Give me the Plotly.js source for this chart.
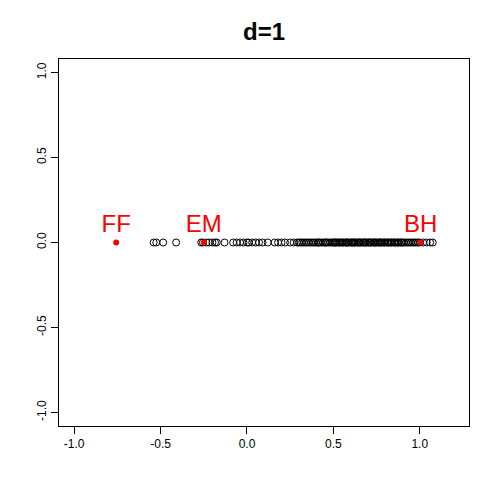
<!DOCTYPE html>
<html>
<head>
<meta charset="utf-8">
<script src="https://cdn.plot.ly/plotly-3.0.1.min.js"></script>
<style>
  html, body { margin: 0; padding: 0; background: #fff; }
  #chart { width: 500px; height: 500px; }
</style>
</head>
<body>
<div id="chart"></div>
<script>
// positions of the open circles (all on y = 0)
const pointX = [
  -0.54, -0.525, -0.485, -0.41, -0.265, -0.255, -0.235, -0.22, -0.2, -0.185,
  -0.175, -0.13, -0.08, -0.06, -0.04, -0.02, 0.0, 0.01, 0.03, 0.05, 0.07, 0.09,
  0.12, 0.16, 0.18, 0.2, 0.22, 0.25, 0.27, 0.29, 0.3, 0.31, 0.32, 0.33, 0.34,
  0.35, 0.36, 0.37, 0.38, 0.39, 0.4, 0.41, 0.415, 0.42, 0.43, 0.44, 0.45, 0.455,
  0.46, 0.47, 0.48, 0.49, 0.5, 0.505, 0.51, 0.515, 0.52, 0.53, 0.535, 0.54,
  0.55, 0.555, 0.56, 0.57, 0.575, 0.58, 0.585, 0.59, 0.6, 0.605, 0.61, 0.615,
  0.62, 0.625, 0.63, 0.64, 0.645, 0.65, 0.655, 0.66, 0.67, 0.675, 0.68, 0.685,
  0.69, 0.7, 0.705, 0.71, 0.715, 0.72, 0.73, 0.735, 0.74, 0.745, 0.75, 0.76,
  0.765, 0.77, 0.775, 0.78, 0.79, 0.795, 0.8, 0.81, 0.815, 0.82, 0.83, 0.835,
  0.84, 0.85, 0.855, 0.86, 0.87, 0.875, 0.88, 0.89, 0.895, 0.9, 0.91, 0.92,
  0.93, 0.94, 0.95, 0.96, 0.97, 0.98, 0.99, 1.0, 1.02, 1.04, 1.06, 1.075
];
const pointY = pointX.map(() => 0);

// highlighted points
const labelNames = ['FF', 'EM', 'BH'];
const labelX = [-0.757, -0.25, 1.005];
const labelY = [0, 0, 0];

const tickVals = [-1, -0.5, 0, 0.5, 1];
const tickText = ['-1.0', '-0.5', '0.0', '0.5', '1.0'];

const axisBase = {
  showgrid: false,
  zeroline: false,
  showline: true,
  mirror: true,
  linecolor: '#000',
  linewidth: 1,
  ticks: 'outside',
  ticklen: 7,
  tickcolor: '#000',
  tickvals: tickVals,
  ticktext: tickText,
  tickfont: { family: 'Liberation Sans, Arial, sans-serif', size: 12, color: '#000' }
};

const data = [
  {
    x: pointX, y: pointY,
    type: 'scatter', mode: 'markers',
    marker: { symbol: 'circle-open', size: 7, color: '#000', line: { width: 1, color: '#000' } },
    hoverinfo: 'x'
  },
  {
    x: labelX, y: labelY,
    type: 'scatter', mode: 'markers+text',
    text: labelNames,
    textposition: 'top center',
    textfont: { family: 'Liberation Sans, Arial, sans-serif', size: 24, color: '#ff0000' },
    marker: { symbol: 'circle', size: 6, color: '#ff0000' },
    hoverinfo: 'text'
  }
];

const layout = {
  width: 500, height: 500,
  margin: { l: 59, r: 31, t: 59, b: 74 },
  paper_bgcolor: '#fff',
  plot_bgcolor: '#fff',
  showlegend: false,
  title: {
    text: '<b>d=1</b>',
    x: 0.528, xanchor: 'center',
    y: 0.936, yanchor: 'middle',
    font: { family: 'Liberation Sans, Arial, sans-serif', size: 24, color: '#000' }
  },
  xaxis: Object.assign({}, axisBase, { range: [-1.088, 1.285] }),
  yaxis: Object.assign({}, axisBase, { range: [-1.08, 1.08], tickangle: -90 })
};

Plotly.newPlot('chart', data, layout, { displayModeBar: false, staticPlot: true });
</script>
</body>
</html>
